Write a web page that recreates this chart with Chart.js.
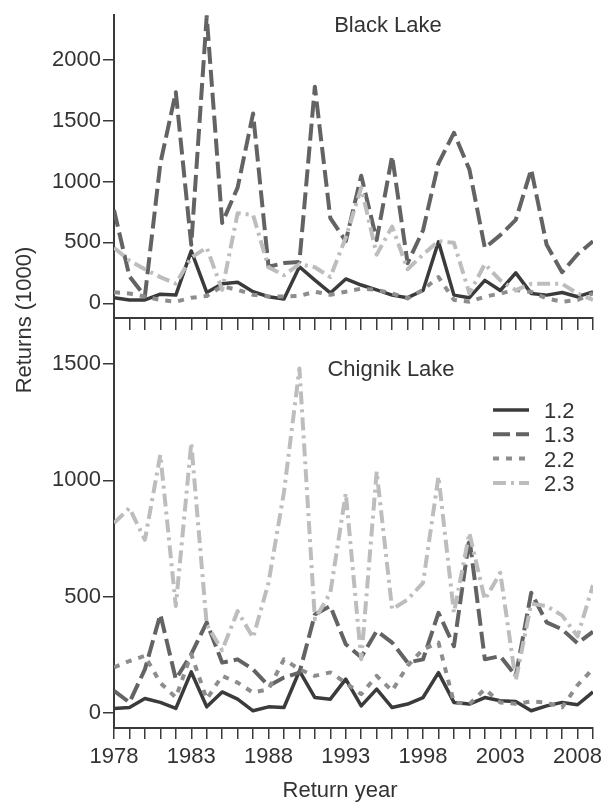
<!DOCTYPE html>
<html>
<head>
<meta charset="utf-8">
<script src="https://cdn.jsdelivr.net/npm/chart.js@4.4.0/dist/chart.umd.min.js"></script>
<style>
  html, body { margin: 0; padding: 0; background: #ffffff; }
  #wrap { position: relative; width: 606px; height: 805px; }
  #wrap canvas { position: absolute; left: 0; top: 0; }
</style>
</head>
<body>
<div id="wrap">
  <canvas id="blackLake" width="606" height="805"></canvas>
  <canvas id="chignikLake" width="606" height="805"></canvas>
</div>
<script>
// Return years
const years = [1978, 1979, 1980, 1981, 1982, 1983, 1984, 1985, 1986, 1987, 1988,
  1989, 1990, 1991, 1992, 1993, 1994, 1995, 1996, 1997, 1998, 1999, 2000, 2001,
  2002, 2003, 2004, 2005, 2006, 2007, 2008, 2009];
const yearLabels = [1978, 1983, 1988, 1993, 1998, 2003, 2008];
const ageClasses = ['1.2', '1.3', '2.2', '2.3'];

// Black Lake returns (thousands) by age class
const black12 = [46, 27, 27, 75, 67, 430, 89, 160, 172, 95, 54, 35, 300, 190, 85, 200,
  150, 110, 67, 46, 105, 505, 67, 46, 188, 105, 250, 81, 67, 89, 54, 94];
const black13 = [766, 220, 60, 1150, 1734, 480, 2360, 660, 950, 1559, 300, 330, 340, 1780, 700, 510,
  1048, 520, 1210, 330, 600, 1150, 1400, 1100, 455, 560, 685, 1100, 480, 255, 403, 510];
const black22 = [90, 80, 55, 27, 13, 45, 60, 140, 110, 70, 55, 55, 60, 95, 70, 95,
  120, 110, 80, 40, 110, 215, 27, 13, 54, 81, 108, 94, 40, 13, 27, 81];
const black23 = [457, 350, 280, 215, 161, 376, 457, 110, 740, 726, 296, 230, 322, 296, 215, 540,
  950, 400, 630, 280, 400, 510, 497, 81, 322, 188, 108, 160, 160, 160, 81, 27];

// Chignik Lake returns (thousands) by age class
const chig12 = [20, 24, 63, 46, 20, 177, 27, 91, 60, 10, 27, 24, 181, 67, 60, 146,
  31, 103, 24, 39, 67, 174, 46, 39, 67, 53, 50, 10, 31, 46, 36, 91];
const chig13 = [96, 46, 188, 424, 146, 253, 390, 217, 231, 188, 117, 153, 174, 424, 460, 296,
  240, 353, 303, 217, 231, 431, 288, 752, 231, 245, 160, 517, 390, 360, 300, 350];
const chig22 = [196, 224, 246, 130, 67, 253, 60, 160, 131, 88, 103, 231, 188, 160, 175, 130,
  81, 160, 96, 203, 274, 303, 46, 39, 103, 46, 40, 50, 45, 25, 120, 190];
const chig23 = [817, 881, 745, 1110, 460, 1160, 380, 270, 438, 324, 560, 950, 1481, 403, 517, 945,
  231, 1038, 446, 488, 560, 1017, 431, 774, 488, 603, 140, 470, 460, 420, 330, 550];

const yTicksBlack = [0, 500, 1000, 1500, 2000];
const yTicksChig = [0, 500, 1000, 1500];

const FONT = 'Liberation Sans, Arial, Helvetica, sans-serif';
const INK = '#333333';
const AXIS = '#3a3a3a';

// line styles per age class
const styles = [
  { color: '#3b3b3b', width: 3.5, dash: [] },
  { color: '#636363', width: 4, dash: [17, 6] },
  { color: '#8d8d8d', width: 4, dash: [6, 7] },
  { color: '#bdbdbd', width: 4, dash: [13, 5, 3, 5] }
];

function makeDatasets(series) {
  return series.map((vals, i) => ({
    label: ageClasses[i],
    data: vals.map((v, k) => ({ x: years[k], y: v })),
    borderColor: styles[i].color,
    borderWidth: styles[i].width,
    borderDash: styles[i].dash,
    borderCapStyle: 'butt',
    borderJoinStyle: 'round',
    pointRadius: 0,
    tension: 0,
    fill: false,
    order: 4 - i
  }));
}

// free text drawn on the canvas (panel names, axis names, legend)
const textPlugin = {
  id: 'panelText',
  afterDraw(chart, args, opts) {
    const ctx = chart.ctx;
    ctx.save();
    ctx.fillStyle = INK;
    (opts.items || []).forEach(t => {
      ctx.save();
      ctx.font = t.size + 'px ' + FONT;
      ctx.textAlign = t.align || 'center';
      ctx.textBaseline = 'alphabetic';
      ctx.translate(t.x, t.y);
      if (t.rotate) ctx.rotate(t.rotate);
      ctx.fillText(t.text, 0, 0);
      ctx.restore();
    });
    if (opts.legend) {
      const L = opts.legend;
      chart.data.datasets.forEach((ds, i) => {
        const y = L.y + i * L.step;
        ctx.save();
        ctx.strokeStyle = ds.borderColor;
        ctx.lineWidth = ds.borderWidth;
        ctx.setLineDash(ds.borderDash || []);
        ctx.lineCap = 'butt';
        ctx.beginPath();
        ctx.moveTo(L.x, y);
        ctx.lineTo(L.x + L.len, y);
        ctx.stroke();
        ctx.restore();
        ctx.font = '22px ' + FONT;
        ctx.textAlign = 'left';
        ctx.textBaseline = 'middle';
        ctx.fillStyle = INK;
        ctx.fillText(ds.label, L.x + L.len + 15, y + 2);
      });
    }
    ctx.restore();
  }
};

function makeChart(id, series, cfg) {
  return new Chart(document.getElementById(id), {
    type: 'line',
    data: { datasets: makeDatasets(series) },
    plugins: [textPlugin],
    options: {
      responsive: false,
      animation: false,
      devicePixelRatio: 1,
      layout: { padding: cfg.padding },
      plugins: {
        legend: { display: false },
        tooltip: { enabled: false },
        panelText: { items: cfg.texts, legend: cfg.legend }
      },
      scales: {
        x: {
          type: 'linear',
          min: 1978,
          max: 2009,
          afterBuildTicks: s => { s.ticks = years.map(v => ({ value: v })); },
          afterFit: s => { s.height = cfg.xHeight; },
          grid: { drawOnChartArea: false, drawTicks: true, tickLength: cfg.xTick, color: AXIS, lineWidth: 1.5 },
          border: { display: true, color: AXIS, width: 2 },
          ticks: {
            autoSkip: false,
            maxRotation: 0,
            padding: 5,
            color: INK,
            font: { size: 22, family: FONT },
            callback: v => (cfg.showYears && yearLabels.includes(v)) ? String(v) : ''
          }
        },
        y: {
          min: cfg.yMin,
          max: cfg.yMax,
          afterBuildTicks: s => { s.ticks = cfg.yTicks.map(v => ({ value: v })); },
          afterFit: s => { s.width = 114; },
          grid: { drawOnChartArea: false, drawTicks: true, tickLength: 11, color: AXIS, lineWidth: 1.5 },
          border: { display: true, color: AXIS, width: 2 },
          ticks: {
            padding: 2,
            color: INK,
            font: { size: 22, family: FONT },
            callback: v => String(v)
          }
        }
      }
    }
  });
}

makeChart('blackLake', [black12, black13, black22, black23], {
  padding: { top: 9.5, right: 13, bottom: 805 - 318 - 14, left: 0 },
  xHeight: 14,
  xTick: 12,
  showYears: false,
  yMin: -121,
  yMax: 2367,
  yTicks: yTicksBlack,
  texts: [
    { text: 'Black Lake', x: 388, y: 32, size: 22 }
  ]
});

makeChart('chignikLake', [chig12, chig13, chig22, chig23], {
  padding: { top: 318, right: 13, bottom: 0, left: 0 },
  xHeight: 77,
  xTick: 11,
  showYears: true,
  yMin: -64,
  yMax: 1698,
  yTicks: yTicksChig,
  texts: [
    { text: 'Chignik Lake', x: 391, y: 376, size: 22 },
    { text: 'Return year', x: 340, y: 797, size: 22 },
    { text: 'Returns (1000)', x: 31, y: 320, size: 22, rotate: -Math.PI / 2 }
  ],
  legend: { x: 493, y: 410, step: 24.3, len: 36 }
});
</script>
</body>
</html>
